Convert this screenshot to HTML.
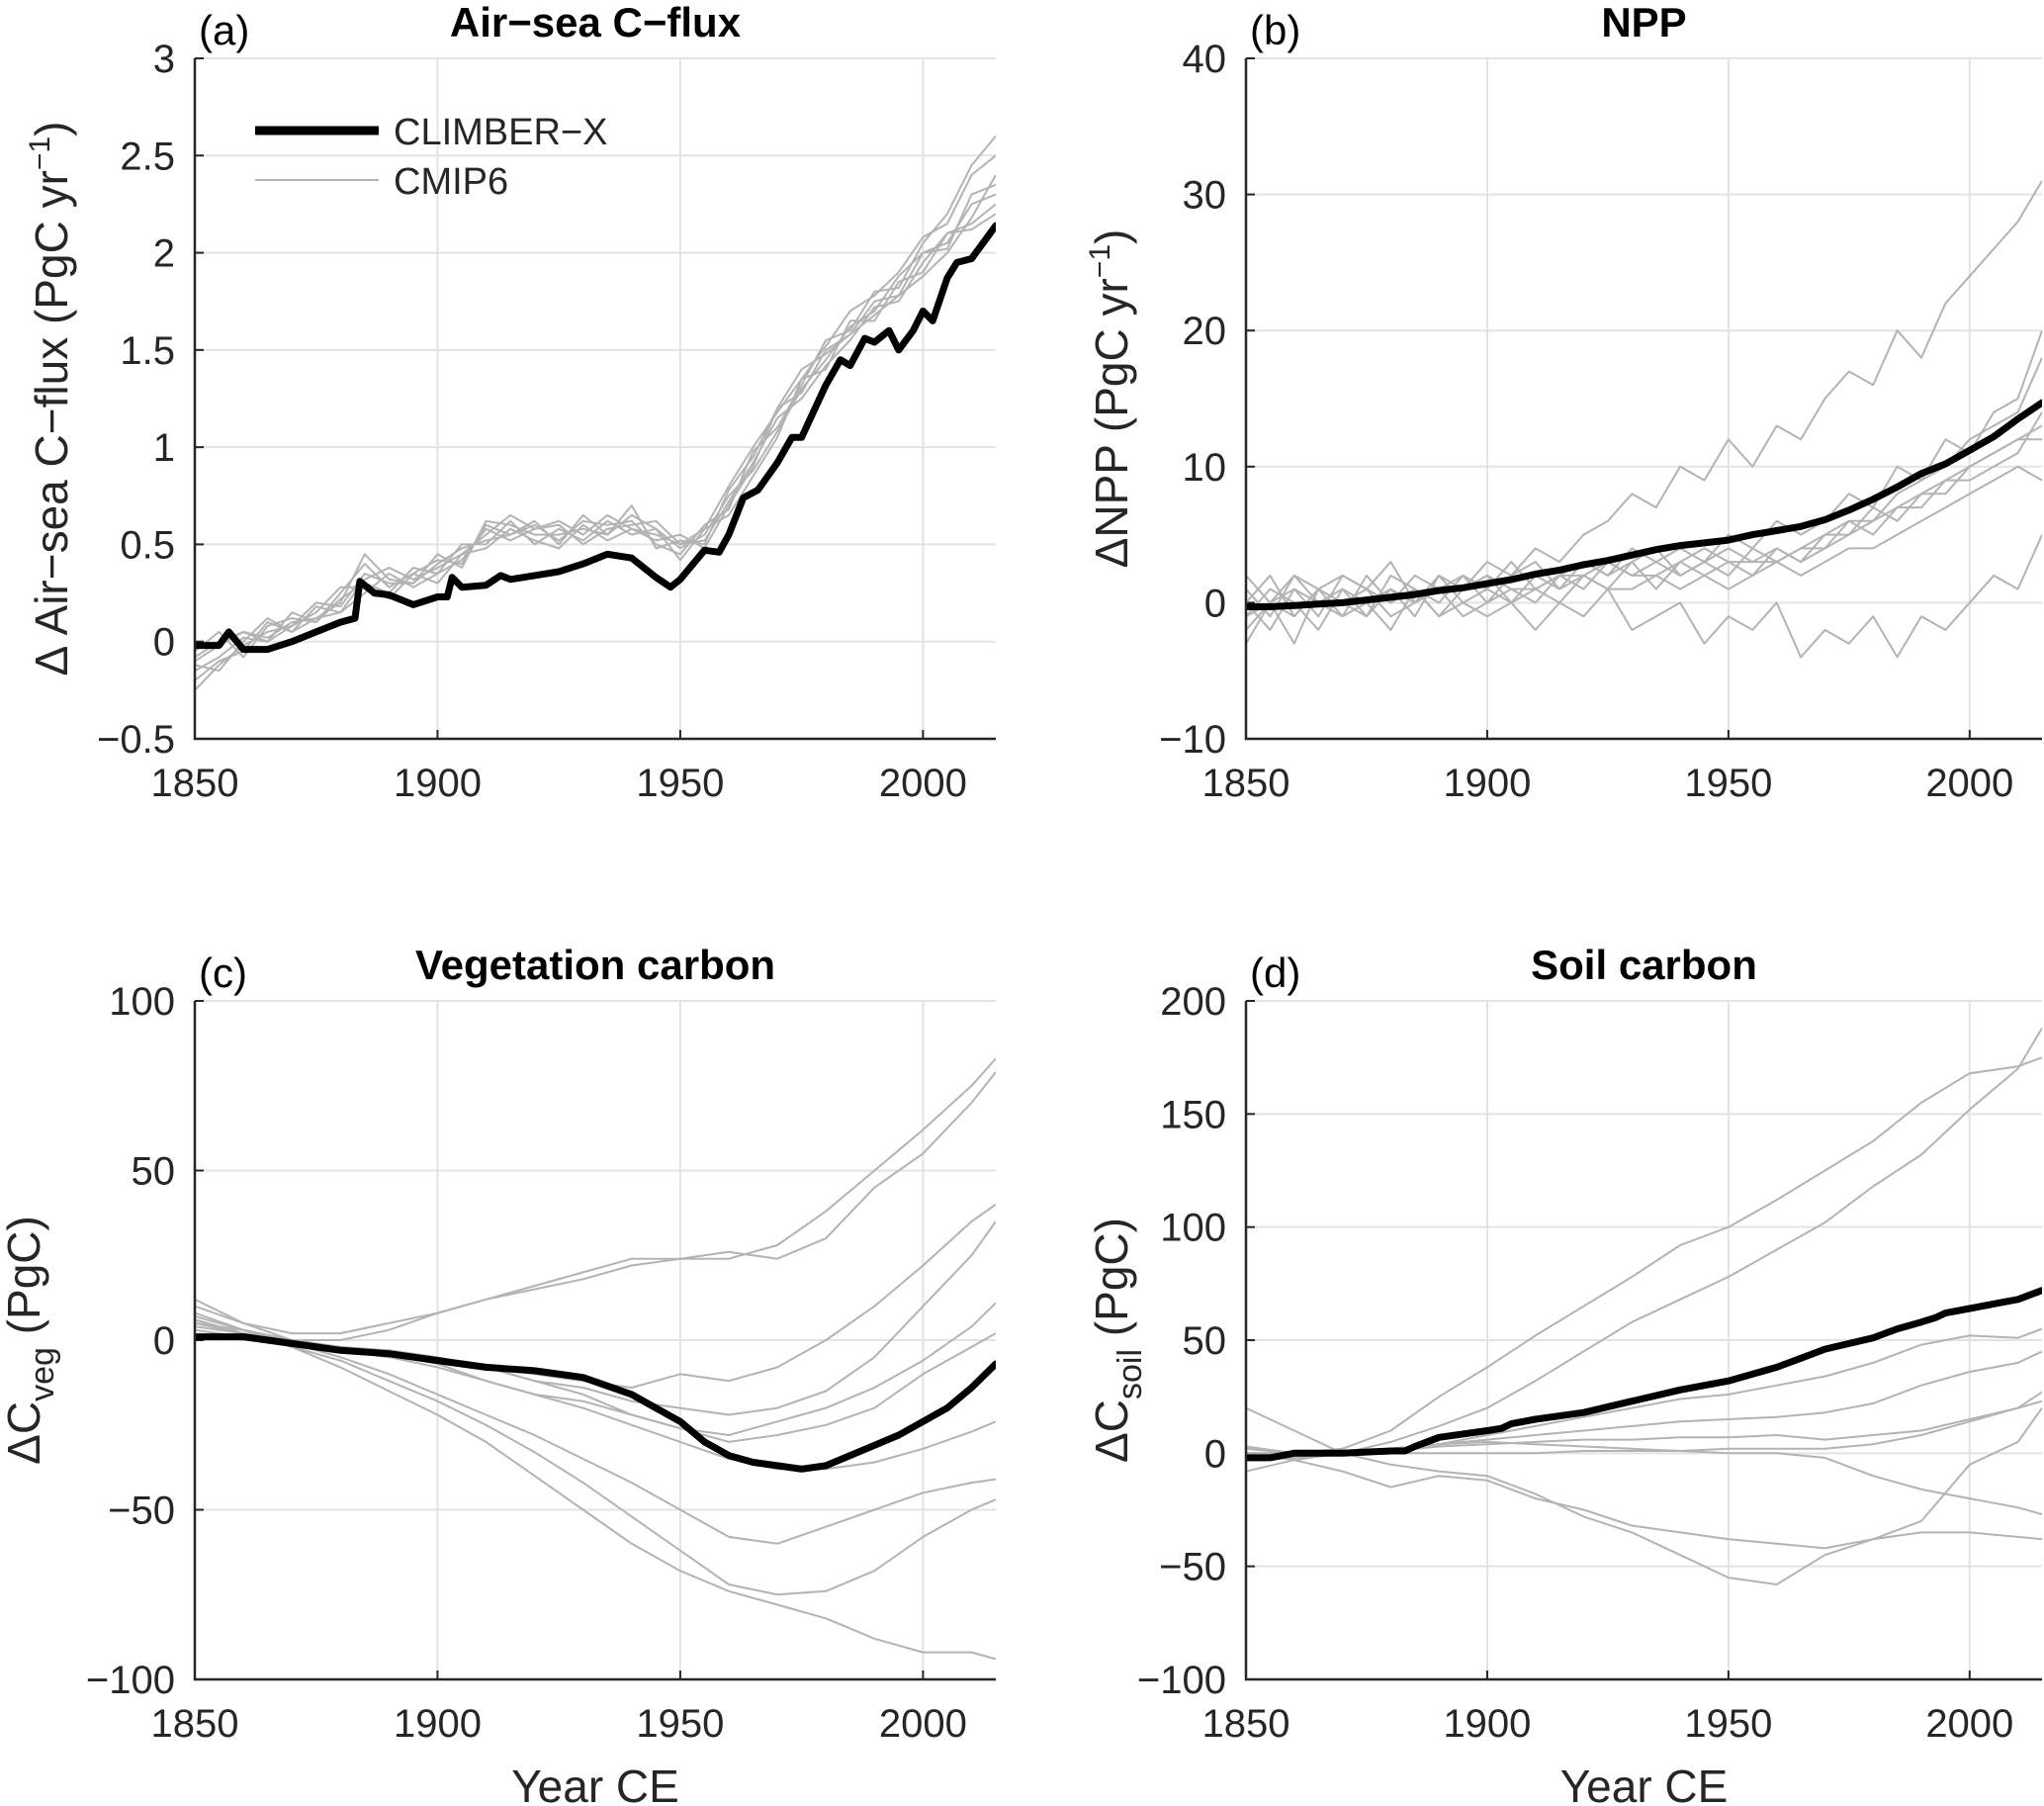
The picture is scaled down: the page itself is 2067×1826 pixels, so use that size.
<!DOCTYPE html>
<html><head><meta charset="utf-8"><style>
html,body{margin:0;padding:0;background:#fff;}
svg{display:block;font-family:"Liberation Sans","DejaVu Sans",sans-serif;}
</style></head><body>
<svg id="fig" width="2067" height="1826" viewBox="0 0 2067 1826" xmlns="http://www.w3.org/2000/svg"></svg>
<script>
// ---------- data ----------
const years5 = [1850,1855,1860,1865,1870,1875,1880,1885,1890,1895,1900,1905,1910,1915,1920,1925,1930,1935,1940,1945,1950,1955,1960,1965,1970,1975,1980,1985,1990,1995,2000,2005,2010,2015];
const years10 = [1850,1860,1870,1880,1890,1900,1910,1920,1930,1940,1950,1960,1970,1980,1990,2000,2010,2015];

// Panel a: air-sea flux
const aClimberYears = [1850,1855,1857,1860,1865,1870,1875,1880,1883,1884,1887,1890,1895,1900,1902,1903,1905,1910,1913,1915,1920,1925,1930,1935,1940,1945,1948,1950,1955,1958,1960,1963,1966,1970,1973,1975,1980,1983,1985,1988,1990,1993,1995,1998,2000,2002,2005,2007,2010,2015];
const aClimber = [-0.02,-0.02,0.05,-0.04,-0.04,0.0,0.05,0.1,0.12,0.31,0.25,0.24,0.19,0.23,0.23,0.33,0.28,0.29,0.34,0.32,0.34,0.36,0.4,0.45,0.43,0.33,0.28,0.32,0.47,0.46,0.55,0.74,0.78,0.92,1.05,1.05,1.32,1.45,1.42,1.56,1.54,1.6,1.5,1.6,1.7,1.65,1.87,1.95,1.97,2.14];
const aCmip1 = [-0.10,-0.02,0.05,0.00,0.15,0.10,0.25,0.40,0.28,0.35,0.42,0.40,0.60,0.55,0.62,0.50,0.65,0.55,0.70,0.48,0.52,0.50,0.78,0.95,1.20,1.28,1.50,1.58,1.75,1.78,2.00,2.02,2.30,2.35];
const aCmip2 = [-0.20,-0.10,-0.05,0.10,0.05,0.18,0.15,0.25,0.35,0.28,0.35,0.50,0.50,0.62,0.50,0.58,0.52,0.62,0.55,0.58,0.42,0.58,0.65,0.85,1.05,1.35,1.40,1.65,1.65,1.85,1.90,2.10,2.15,2.25];
const aCmip3 = [-0.05,0.05,-0.08,0.08,0.12,0.10,0.22,0.30,0.25,0.38,0.35,0.42,0.58,0.52,0.58,0.62,0.55,0.65,0.58,0.55,0.50,0.52,0.72,0.92,1.15,1.25,1.42,1.55,1.72,1.75,1.95,2.10,2.12,2.20];
const aCmip4 = [-0.15,-0.08,0.02,0.00,0.08,0.20,0.18,0.35,0.30,0.30,0.40,0.48,0.52,0.55,0.60,0.52,0.62,0.60,0.62,0.50,0.45,0.60,0.68,0.98,1.10,1.32,1.55,1.60,1.80,1.82,2.05,2.20,2.45,2.60];
const aCmip5 = [-0.08,0.00,0.05,0.02,0.10,0.12,0.20,0.45,0.32,0.30,0.45,0.38,0.62,0.60,0.55,0.55,0.58,0.55,0.65,0.58,0.48,0.55,0.75,0.88,1.08,1.30,1.45,1.62,1.70,1.88,2.00,2.05,2.25,2.30];
const aCmip6 = [-0.25,-0.12,-0.02,0.05,0.08,0.15,0.28,0.28,0.22,0.35,0.30,0.45,0.48,0.58,0.52,0.48,0.60,0.52,0.58,0.52,0.55,0.48,0.70,0.90,1.20,1.40,1.48,1.58,1.68,1.78,1.88,2.00,2.18,2.40];
const aCmip7 = [-0.12,-0.15,0.00,0.12,0.05,0.12,0.15,0.32,0.38,0.32,0.38,0.45,0.55,0.65,0.58,0.60,0.50,0.58,0.60,0.62,0.50,0.58,0.80,1.00,1.18,1.35,1.52,1.70,1.78,1.90,2.08,2.15,2.40,2.50];

// Panel b: NPP
const bClimber = [-0.3,-0.3,-0.2,-0.1,0.0,0.2,0.4,0.6,0.9,1.1,1.4,1.7,2.1,2.4,2.8,3.1,3.5,3.9,4.2,4.4,4.6,5.0,5.3,5.6,6.1,6.8,7.6,8.5,9.5,10.2,11.2,12.2,13.5,14.7];
const bCmip1 = [0,2,-1,1,2,1,3,0,2,1,3,2,4,3,5,6,8,7,10,9,12,10,13,12,15,17,16,20,18,22,24,26,28,31];
const bCmip2 = [-2,0,-3,1,-1,0,-2,1,-1,0,-1,0,-2,0,-1,1,-2,-1,0,-3,-1,-2,0,-4,-2,-3,-1,-4,-1,-2,0,2,1,5];
const bCmip3 = [1,-1,2,0,1,-1,2,1,0,2,1,3,1,2,3,2,4,3,4,3,5,4,6,5,6,8,7,10,9,12,11,14,15,20];
const bCmip4 = [-1,1,0,-2,1,0,1,-1,2,0,1,0,2,1,2,3,2,2,3,4,3,2,4,3,5,6,6,8,9,10,12,13,14,18];
const bCmip5 = [0,-2,1,0,-1,2,0,1,-1,1,2,1,0,2,1,3,2,3,2,3,4,3,3,4,4,5,7,6,8,8,10,11,12,13];
const bCmip6 = [-3,0,-1,1,0,-1,1,0,1,-1,0,1,1,0,2,1,1,2,1,2,1,2,3,2,3,4,4,5,6,7,8,9,10,9];
const bCmip7 = [2,0,1,-1,2,1,0,2,1,2,0,2,3,1,3,2,3,4,2,3,2,4,3,4,5,5,6,7,8,9,10,11,12,12];
const bCmip8 = [-1,0,2,1,0,1,-1,0,1,1,2,0,1,2,2,1,3,1,3,2,3,3,4,3,4,6,5,7,7,9,9,10,11,14];

// Panel c: vegetation carbon
const cClimberYears = [1850,1860,1870,1880,1890,1900,1910,1920,1930,1940,1950,1955,1960,1965,1970,1975,1980,1985,1990,1995,2000,2005,2010,2015];
const cClimber = [1,1,-1,-3,-4,-6,-8,-9,-11,-16,-24,-30,-34,-36,-37,-38,-37,-34,-31,-28,-24,-20,-14,-7];
const cCmip1 = [10,5,2,2,5,8,12,15,18,22,24,24,28,38,50,62,75,83];
const cCmip2 = [8,3,0,0,3,8,12,16,20,24,24,26,24,30,45,55,70,79];
const cCmip3 = [12,5,0,-2,-4,-6,-8,-10,-12,-14,-10,-12,-8,0,10,22,35,40];
const cCmip4 = [5,3,0,-3,-5,-6,-8,-12,-14,-18,-20,-22,-20,-15,-5,10,25,35];
const cCmip5 = [3,1,0,-2,-3,-5,-8,-12,-16,-22,-26,-28,-24,-20,-14,-6,4,11];
const cCmip6 = [6,2,0,-2,-4,-7,-12,-16,-18,-22,-26,-30,-28,-25,-20,-10,-2,2];
const cCmip7 = [4,2,-1,-3,-5,-8,-12,-16,-20,-25,-30,-35,-38,-38,-36,-32,-27,-24];
const cCmip8 = [5,2,-1,-5,-10,-16,-22,-28,-35,-42,-50,-58,-60,-55,-50,-45,-42,-41];
const cCmip9 = [6,2,-2,-6,-12,-18,-25,-33,-42,-52,-62,-72,-75,-74,-68,-58,-50,-47];
const cCmip10 = [7,3,-2,-8,-15,-22,-30,-40,-50,-60,-68,-74,-78,-82,-88,-92,-92,-94];

// Panel d: soil carbon
const dClimberYears = [1850,1855,1860,1870,1880,1883,1885,1890,1900,1903,1905,1910,1920,1930,1940,1950,1960,1965,1970,1980,1985,1990,1993,1995,2000,2010,2015];
const dClimber = [-2,-2,0,0,1,1,3,7,10,11,13,15,18,23,28,32,38,42,46,51,55,58,60,62,64,68,72];
const dCmip1 = [0,0,2,10,25,38,52,65,78,92,100,112,125,138,155,168,171,175];
const dCmip2 = [-3,-2,0,5,12,20,32,45,58,68,78,90,102,118,132,152,170,188];
const dCmip3 = [0,0,0,2,4,8,12,16,20,24,26,30,34,40,48,52,51,55];
const dCmip4 = [0,-2,0,2,4,6,8,10,12,14,15,16,18,22,30,36,40,45];
const dCmip5 = [2,0,0,1,3,4,5,6,6,7,7,8,6,8,10,15,20,27];
const dCmip6 = [-8,-3,0,0,0,0,0,1,1,1,2,2,2,4,8,14,20,23];
const dCmip7 = [20,10,0,-5,-8,-10,-18,-28,-35,-45,-55,-58,-45,-38,-30,-5,5,20];
const dCmip8 = [3,0,0,2,4,5,4,3,2,1,0,0,-2,-10,-16,-20,-24,-27];
const dCmip9 = [0,-3,-8,-15,-10,-12,-20,-25,-32,-35,-38,-40,-42,-38,-35,-35,-37,-38];

const xTicks = [1850,1900,1950,2000];
const aTicks = [-0.5,0,0.5,1,1.5,2,2.5,3];
const aTickLabels = ["\u22120.5","0","0.5","1","1.5","2","2.5","3"];
const bTicks = [-10,0,10,20,30,40];
const bTickLabels = ["\u221210","0","10","20","30","40"];
const cTicks = [-100,-50,0,50,100];
const cTickLabels = ["\u2212100","\u221250","0","50","100"];
const dTicks = [-100,-50,0,50,100,150,200];
const dTickLabels = ["\u2212100","\u221250","0","50","100","150","200"];

// ---------- drawing ----------
const NS = "http://www.w3.org/2000/svg";
const svg = document.getElementById('fig');
function mk(tag, attrs, parent){
  const e = document.createElementNS(NS, tag);
  for (const k in attrs) e.setAttribute(k, attrs[k]);
  (parent||svg).appendChild(e);
  return e;
}

function panel(cfg){
  const g = mk('g', {});
  
  
  const L=cfg.x0, R=cfg.x1, T=cfg.y0, B=cfg.y1;
  const sx = v => L + (v-1850)/(2015-1850)*(R-L);
  const sy = v => B - (v-cfg.ymin)/(cfg.ymax-cfg.ymin)*(B-T);
  // grid
  cfg.yticks.forEach((t,i)=>{
    const ln = mk('line',{x1:L,x2:R,y1:sy(t),y2:sy(t),stroke:'#e3e3e3','stroke-width':2},g);
    
    
    const tx = mk('text',{x:L-20,y:sy(t)+14,'font-size':40,'text-anchor':'end',fill:'#262626'},g);
    tx.textContent = cfg.ytickLabels[i];
    
    
    const tk = mk('line',{x1:L,x2:L+9,y1:sy(t),y2:sy(t),stroke:'#262626','stroke-width':2},g);
    
    
  });
  xTicks.forEach(t=>{
    const ln = mk('line',{x1:sx(t),x2:sx(t),y1:T,y2:B,stroke:'#e3e3e3','stroke-width':2},g);
    
    
    const tk = mk('line',{x1:sx(t),x2:sx(t),y1:B,y2:B-9,stroke:'#262626','stroke-width':2},g);
    
    
    const tx = mk('text',{x:sx(t),y:B+58,'font-size':40,'text-anchor':'middle',fill:'#262626'},g);
    tx.textContent = String(t);
    
    
  });
  // clip
  const cid = 'clip-'+cfg.name;
  const cp = mk('clipPath',{id:cid},g);
  mk('rect',{x:L,y:T,width:R-L,height:B-T},cp);
  const plot = mk('g',{'clip-path':'url(#'+cid+')'},g);
  cfg.cmip.forEach((s,i)=>{
    const d = s.map((v,j)=>(j?'L':'M')+sx(cfg.cmipYears[j]).toFixed(1)+','+sy(v).toFixed(1)).join('');
    const p = mk('path',{d:d,fill:'none',stroke:'#b3b3b3','stroke-width':2,'stroke-linejoin':'round'},plot);
    
    
  });
  const d = cfg.climber.map((v,j)=>(j?'L':'M')+sx(cfg.climberYears[j]).toFixed(1)+','+sy(v).toFixed(1)).join('');
  const p = mk('path',{d:d,fill:'none',stroke:'#000','stroke-width':7,'stroke-linejoin':'round','stroke-linecap':'round'},plot);
  
  
  // axes
  const ax = mk('path',{d:'M'+L+','+T+'L'+L+','+B+'L'+R+','+B,fill:'none',stroke:'#262626','stroke-width':2.5},g);
  
  
  // panel letter + title
  const lt = mk('text',{x:L+4,y:T-14,'font-size':42,fill:'#000'},g);
  lt.textContent = cfg.letter;
  
  
  const tt = mk('text',{x:(L+R)/2,y:T-22,'font-size':42,'font-weight':'bold','text-anchor':'middle',fill:'#000'},g);
  tt.textContent = cfg.title;
  
  
  // y label
  const yl = mk('text',{transform:'translate('+cfg.ylx+','+((T+B)/2)+') rotate(-90)','font-size':46,'text-anchor':'middle',fill:'#262626'},g);
  yl.innerHTML = cfg.ylabel;
  
  
  if (cfg.xlabel){
    const xl = mk('text',{x:(L+R)/2,y:B+124,'font-size':46,'text-anchor':'middle',fill:'#262626'},g);
    xl.textContent = cfg.xlabel;
    
    
  }
  return g;
}

panel({name:'panel-a',x0:197,x1:1007,y0:59,y1:747,ymin:-0.5,ymax:3,yticks:aTicks,ytickLabels:aTickLabels,
  cmip:[aCmip1,aCmip2,aCmip3,aCmip4,aCmip5,aCmip6,aCmip7],cmipYears:years5,climber:aClimber,climberYears:aClimberYears,
  letter:'(a)',title:'Air\u2212sea C\u2212flux',ylx:68,
  ylabel:'\u0394  Air\u2212sea C\u2212flux (PgC yr<tspan dy="-18" font-size="30">\u22121</tspan><tspan dy="18">)</tspan>'});
panel({name:'panel-b',x0:1260,x1:2065,y0:59,y1:747,ymin:-10,ymax:40,yticks:bTicks,ytickLabels:bTickLabels,
  cmip:[bCmip1,bCmip2,bCmip3,bCmip4,bCmip5,bCmip6,bCmip7,bCmip8],cmipYears:years5,climber:bClimber,climberYears:years5,
  letter:'(b)',title:'NPP',ylx:1140,
  ylabel:'\u0394NPP (PgC yr<tspan dy="-18" font-size="30">\u22121</tspan><tspan dy="18">)</tspan>'});
panel({name:'panel-c',x0:197,x1:1007,y0:1012,y1:1698,ymin:-100,ymax:100,yticks:cTicks,ytickLabels:cTickLabels,
  cmip:[cCmip1,cCmip2,cCmip3,cCmip4,cCmip5,cCmip6,cCmip7,cCmip8,cCmip9,cCmip10],cmipYears:years10,climber:cClimber,climberYears:cClimberYears,
  letter:'(c)',title:'Vegetation carbon',ylx:40,xlabel:'Year CE',
  ylabel:'\u0394C<tspan dy="14" font-size="34">veg</tspan><tspan dy="-14">  (PgC)</tspan>'});
panel({name:'panel-d',x0:1260,x1:2065,y0:1012,y1:1698,ymin:-100,ymax:200,yticks:dTicks,ytickLabels:dTickLabels,
  cmip:[dCmip1,dCmip2,dCmip3,dCmip4,dCmip5,dCmip6,dCmip7,dCmip8,dCmip9],cmipYears:years10,climber:dClimber,climberYears:dClimberYears,
  letter:'(d)',title:'Soil carbon',ylx:1140,xlabel:'Year CE',
  ylabel:'\u0394C<tspan dy="14" font-size="34">soil</tspan><tspan dy="-14">  (PgC)</tspan>'});

// legend
const lg = mk('g',{});


mk('line',{x1:258,x2:383,y1:132,y2:132,stroke:'#000','stroke-width':9},lg);
const t1 = mk('text',{x:398,y:146,'font-size':38,fill:'#262626'},lg);
t1.textContent='CLIMBER\u2212X';


mk('line',{x1:258,x2:383,y1:182,y2:182,stroke:'#b3b3b3','stroke-width':2},lg);
const t2 = mk('text',{x:398,y:196,'font-size':38,fill:'#262626'},lg);
t2.textContent='CMIP6';


</script>
</body></html>
